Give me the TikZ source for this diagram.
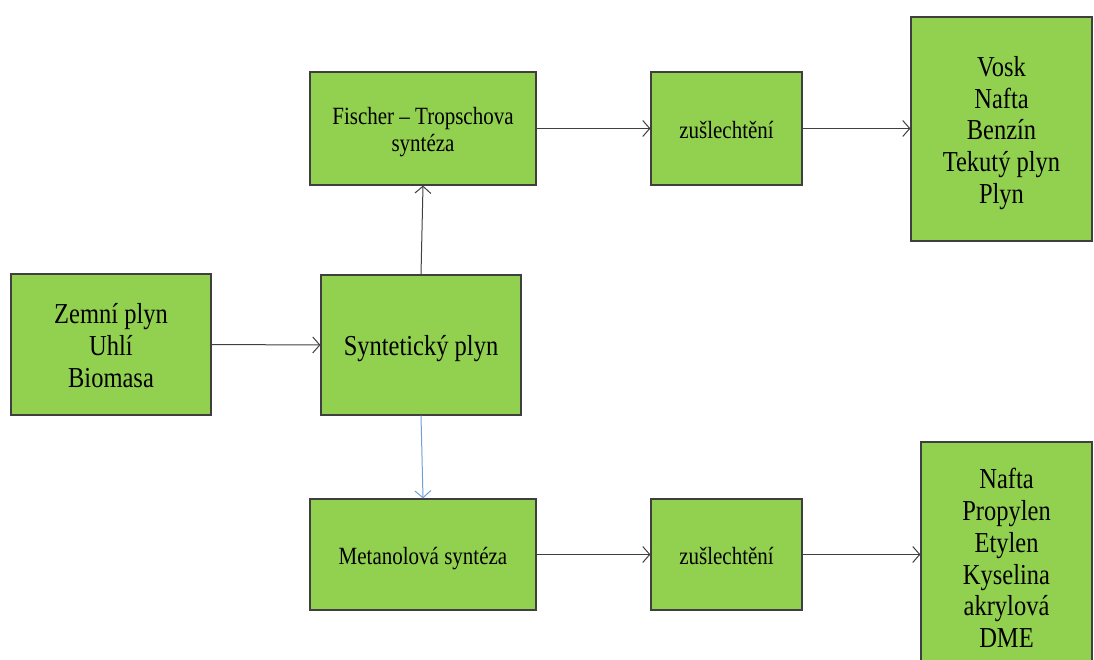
\documentclass[tikz,border=0pt]{standalone}
\usepackage{fontspec}
\usepackage{graphicx}
\setmainfont{Liberation Serif}
\usetikzlibrary{arrows.meta}
\definecolor{boxgreen}{HTML}{92D050}
\definecolor{boxedge}{HTML}{3F3F3F}
\definecolor{linkgray}{HTML}{404040}
\definecolor{linkblue}{HTML}{6F9FD8}
% centred lines of text, set slightly tall and narrow and sitting a little low
\newcommand{\talltext}[1]{\raisebox{-4.5pt}[\height][\depth]{\scalebox{1}[1.18]{\begin{tabular}{@{}c@{}}#1\end{tabular}}}}
\tikzset{
  stage/.style={draw=boxedge, line width=1.2pt, fill=boxgreen, align=center,
    inner sep=0pt, text=black},
  small/.style={font=\fontsize{21}{23}\selectfont},
  large/.style={font=\fontsize{24.5}{26.9}\selectfont},
  link/.style={draw=linkgray, line width=1pt,
    -{Straight Barb[length=7pt, width=16pt, line width=1pt]}},
}
\begin{document}
\begin{tikzpicture}[x=1pt, y=-1pt]
\useasboundingbox (0,0) rectangle (1094,660);
% process boxes
\node[stage, small, minimum width=226pt, minimum height=113pt]
  (ft) at (423,128.5) {\talltext{Fischer -- Tropschova\\syntéza}};
\node[stage, small, minimum width=151pt, minimum height=113pt]
  (zu1) at (726.5,128.5) {\talltext{zušlechtění}};
\node[stage, large, minimum width=181pt, minimum height=224pt]
  (out1) at (1001.5,129) {\talltext{Vosk\\Nafta\\Benzín\\Tekutý plyn\\Plyn}};
\node[stage, large, minimum width=200pt, minimum height=141pt]
  (src) at (111,344.5) {\talltext{Zemní plyn\\Uhlí\\Biomasa}};
\node[stage, large, minimum width=200pt, minimum height=140pt]
  (syn) at (421,345) {\talltext{Syntetický plyn}};
\node[stage, small, minimum width=226pt, minimum height=111pt]
  (met) at (423,554.5) {\talltext{Metanolová syntéza}};
\node[stage, small, minimum width=151pt, minimum height=111pt]
  (zu2) at (726.5,554.5) {\talltext{zušlechtění}};
\node[stage, large, minimum width=171pt, minimum height=231pt]
  (out2) at (1006.5,557.5) {\talltext{Nafta\\Propylen\\Etylen\\Kyselina\\akrylová\\DME}};
% connectors
\draw[link] (src.east) -- (syn.west);
\draw[link] (syn.north) -- (ft.south);
\draw[link] (ft.east) -- (zu1.west);
\draw[link] (zu1.east) -- (zu1.east -| out1.west);
\draw[link, draw=linkblue, -{Straight Barb[length=7pt, width=16pt, line width=1pt, color=linkblue]}]
  (syn.south) -- ([xshift=2pt]syn.south |- met.north);
\draw[link] (met.east) -- (zu2.west);
\draw[link] (zu2.east) -- (zu2.east -| out2.west);
\end{tikzpicture}
\end{document}
